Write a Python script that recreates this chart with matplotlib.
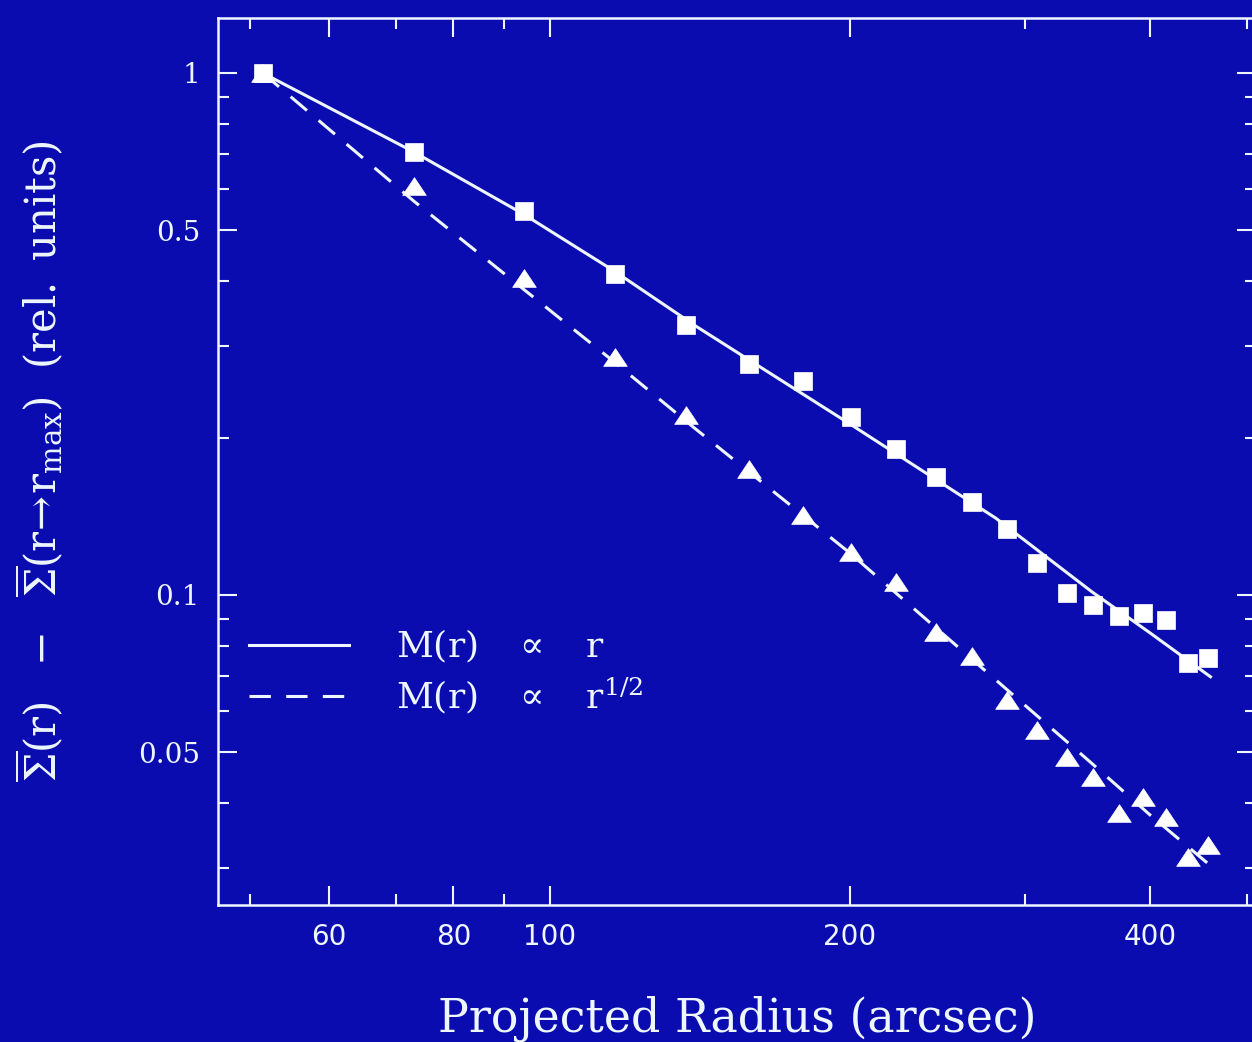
"""Surface density excess vs projected radius, with two mass-profile models."""
import matplotlib
matplotlib.use("Agg")
import matplotlib.pyplot as plt
from matplotlib.lines import Line2D
from matplotlib.ticker import FixedLocator, FixedFormatter, NullFormatter

BG, FG = "#0a0cb0", "#eef6ff"

# observed points (squares: M ∝ r case, triangles: M ∝ r^1/2 case)
radius = [51.5, 73.0, 94.2, 116.2, 136.9, 158.4, 179.4, 200.5, 222.4, 243.9,
          265.1, 287.4, 308.1, 330.2, 350.7, 372.4, 393.6, 415.0, 436.8, 457.4]
sigma_sq = [1.0, 0.706, 0.544, 0.412, 0.329, 0.277, 0.257, 0.219, 0.190, 0.168,
            0.151, 0.134, 0.115, 0.101, 0.0957, 0.0912, 0.0924, 0.0896, 0.0741, 0.0757]
sigma_tri = [1.0, 0.608, 0.405, 0.286, 0.221, 0.174, 0.142, 0.121, 0.106, 0.0849,
             0.0764, 0.0629, 0.0551, 0.0489, 0.0448, 0.0382, 0.0410, 0.0376, 0.0315, 0.0332]

# model curves
model_r = [51.5, 73, 94, 116, 140, 200, 280, 350, 400, 460]
model_linear = [1.0, 0.706, 0.537, 0.4175, 0.3276, 0.2126, 0.1404, 0.1013, 0.0846, 0.0697]
model_sqrt = [1.0, 0.5685, 0.3858, 0.2796, 0.208, 0.1203, 0.0688, 0.0475, 0.0379, 0.0303]

x_major = [60, 80, 100, 200, 400]
x_minor = [50, 70, 90, 300, 500]
y_major = [0.05, 0.1, 0.5, 1]
y_minor = [0.03, 0.04, 0.06, 0.07, 0.08, 0.09, 0.2, 0.3, 0.4, 0.6, 0.7, 0.8, 0.9]

plt.rcParams["mathtext.fontset"] = "dejavuserif"

fig = plt.figure(figsize=(12.52, 10.42), dpi=100, facecolor=BG)
ax = fig.add_axes([218 / 1252, 1 - 905 / 1042, (1256 - 218) / 1252, (905 - 18) / 1042])
ax.set_facecolor(BG)
ax.set_xscale("log")
ax.set_yscale("log")
ax.set_xlim(46.45, 511)
ax.set_ylim(0.02547, 1.2745)

ax.plot(model_r, model_linear, color=FG, lw=2.2, zorder=2)
ax.plot(model_r, model_sqrt, color=FG, lw=2.2, dashes=(7, 5), zorder=2)

# first triangle sits under the first square (both normalised to 1)
tri = [(-1, -0.75), (1, -0.75), (0, 0.75), (-1, -0.75)]
ax.plot(radius, sigma_tri, ls="none", marker=tri, ms=17, mfc="white",
        mec="white", mew=0.5, zorder=3)
ax.plot(radius, sigma_sq, ls="none", marker="s", ms=13.5, mfc="white",
        mec="white", mew=0.5, zorder=4)

ax.xaxis.set_major_locator(FixedLocator(x_major))
ax.xaxis.set_major_formatter(FixedFormatter([str(v) for v in x_major]))
ax.xaxis.set_minor_locator(FixedLocator(x_minor))
ax.xaxis.set_minor_formatter(NullFormatter())
ax.yaxis.set_major_locator(FixedLocator(y_major))
ax.yaxis.set_major_formatter(FixedFormatter(["0.05", "0.1", "0.5", "1"]))
ax.yaxis.set_minor_locator(FixedLocator(y_minor))
ax.yaxis.set_minor_formatter(NullFormatter())

ax.tick_params(which="both", direction="in", top=True, right=True, colors=FG, width=1.5)
ax.tick_params(which="major", length=14)
ax.tick_params(which="minor", length=8)
ax.tick_params(axis="x", pad=13, labelsize=20)
ax.tick_params(axis="y", pad=13, labelsize=20)
for lab in ax.get_yticklabels():
    lab.set_family("DejaVu Serif")

for s in ax.spines.values():
    s.set_color(FG)
    s.set_linewidth(1.8)

ax.set_xlabel("Projected Radius (arcsec)", family="DejaVu Serif", fontsize=33,
              color=FG, labelpad=32)
ax.set_ylabel(r"$\overline{\Sigma}\mathrm{(r)}\ \ -\ \ \overline{\Sigma}"
              r"\mathrm{(r\!\rightarrow\! r_{max})}\ \ \mathrm{(rel.\ units)}$",
              fontsize=30, color=FG, labelpad=52)

handles = [Line2D([], [], color=FG, lw=2.2),
           Line2D([], [], color=FG, lw=2.2, dashes=(7, 5))]
labels = [r"M(r)   $\propto$   r", r"M(r)   $\propto$   r$^{1/2}$"]
leg = ax.legend(handles, labels, loc="center left", bbox_to_anchor=(0.0299, 0.2627),
                frameon=False, borderpad=0, borderaxespad=0, handlelength=2.78,
                handletextpad=1.28, labelspacing=0.3,
                prop={"family": "DejaVu Serif", "size": 26})
for t in leg.get_texts():
    t.set_color(FG)

fig.savefig("out.png", facecolor=BG)
